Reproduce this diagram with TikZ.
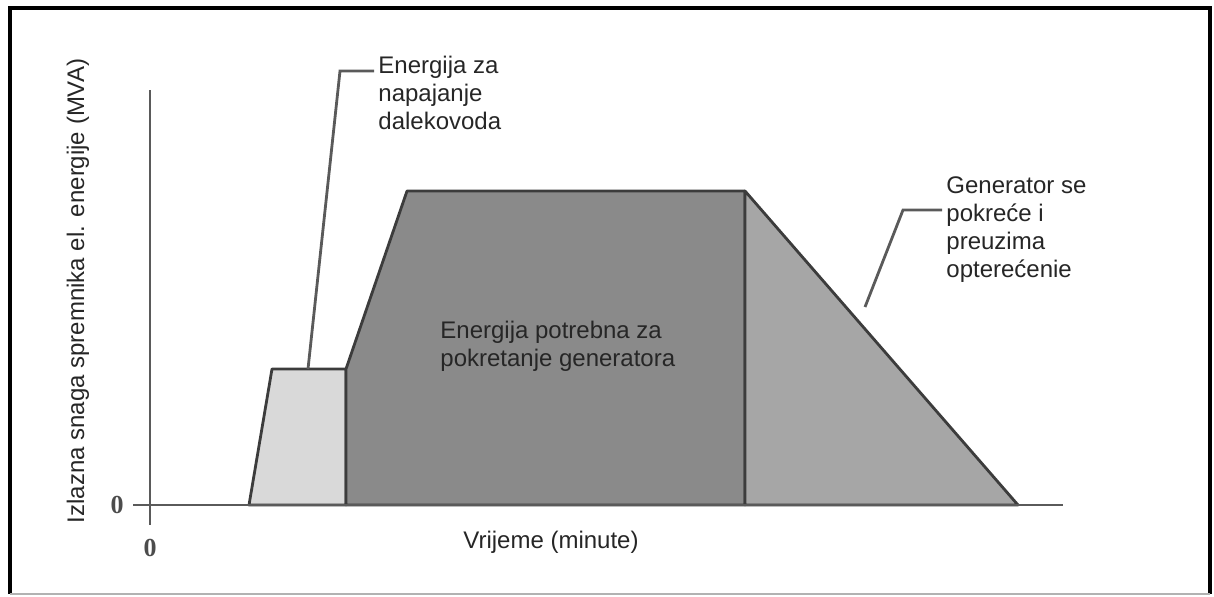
\documentclass[tikz,border=0pt]{standalone}
\usepackage{fontspec}
\setmainfont{Liberation Sans}
\newfontfamily\zerofont{Liberation Serif}
\usepackage{tikz}
\usetikzlibrary{calc,positioning}
\definecolor{lightfill}{HTML}{D9D9D9}
\definecolor{darkfill}{HTML}{8A8A8A}
\definecolor{midfill}{HTML}{A6A6A6}
\definecolor{edgegray}{HTML}{3C3C3C}
\definecolor{axisgray}{HTML}{5A5A5A}
\tikzset{phase1/.style={lightfill},phase2/.style={darkfill},phase3/.style={midfill}}

\begin{document}
\begin{tikzpicture}[x=0.5pt, y=-0.5pt]

\tikzset{
phase1/.style={fill=lightfill,draw=edgegray,line width=1.4pt,line join=round},
phase2/.style={fill=darkfill,draw=edgegray,line width=1.4pt,line join=round},
phase3/.style={fill=midfill,draw=edgegray,line width=1.4pt,line join=round},
axis/.style={draw=axisgray,line width=1.4pt},
callout/.style={draw=axisgray,line width=1.4pt},
lab/.style={font=\fontsize{12}{14}\selectfont,text=black!85,inner sep=2pt,align=left},
zero/.style={font=\zerofont\bfseries\fontsize{13}{13}\selectfont,text=black!70,inner sep=0pt}
}

\useasboundingbox (0,0) rectangle (1214,596);

% Frame
\draw[line width=2pt,black] (10,594) -- (10,8) -- (1210,8) -- (1210,594);
\draw[line width=0.6pt,black!30] (10,594) -- (1210,594);

% Nodes
\coordinate (orig) at (150,505);
\coordinate (xstart) at (133,505);
\coordinate (xend) at (1063,505);
\coordinate (ytop) at (150,90);
\coordinate (ybot) at (150,525);

\coordinate (lineup) at (249,505);
\coordinate (linetop) at (272,369);
\coordinate (split) at (346,369);
\coordinate (splitbot) at (346,505);
\coordinate (rampl) at (407,191);
\coordinate (rampr) at (745,191);
\coordinate (rampbot) at (745,505);
\coordinate (genend) at (1018,505);

% Shapes
\filldraw[phase1] (lineup) -- (linetop) -- (split) -- (splitbot) -- cycle;
\filldraw[phase2] (splitbot) -- (split) -- (rampl) -- (rampr) -- (rampbot) -- cycle;
\filldraw[phase3] (rampr) -- (genend) -- (rampbot) -- cycle;

% Axes
\draw[axis] (ytop) -- (ybot);
\draw[axis] (xstart) -- (xend);

% Labels
\node[lab,anchor=west] (linelab) at (374,93) {Energija za\\napajanje\\dalekovoda};
\node[lab,anchor=west] (startlab) at (436,346) {Energija potrebna za\\pokretanje generatora};
\node[lab,anchor=west] (genlab) at (942,230) {Generator se\\pokreće i\\preuzima\\opterećenie};
\node[lab] (xlab) at (551,542) {Vrijeme (minute)};
\node[lab,rotate=90] (ylab) at (78,291) {Izlazna snaga spremnika el. energije (MVA)};
\node[zero] (zeroy) at (117,505) {0};
\node[zero] (zerox) at (150,548) {0};

% Callouts
\coordinate (linefoot) at (308,369);
\coordinate (linebend) at (340,71);
\coordinate (genfoot) at (865,307);
\coordinate (genbend) at (903,210);
\draw[callout] (linefoot) -- (linebend) -- (linelab.west |- linebend);
\draw[callout] (genfoot) -- (genbend) -- (genlab.west |- genbend);

\end{tikzpicture}
\end{document}
